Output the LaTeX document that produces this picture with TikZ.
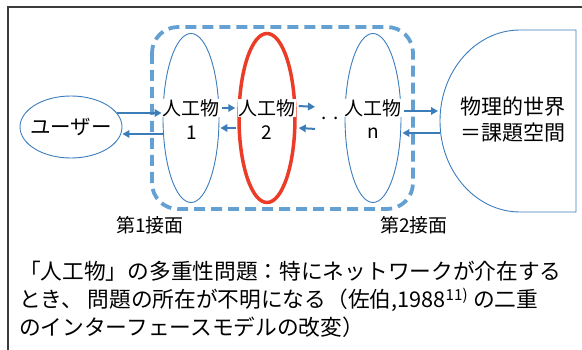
\documentclass[tikz,border=0pt]{standalone}
\usepackage{fontspec}
\setmainfont{Noto Sans CJK JP}
\usetikzlibrary{shapes.geometric,arrows.meta}
\definecolor{ebl}{RGB}{60,125,190}
\definecolor{dsh}{RGB}{100,160,210}
\definecolor{arw}{RGB}{60,125,185}
\definecolor{rd}{RGB}{235,60,40}
\definecolor{frm}{RGB}{60,60,60}
\tikzset{
  ell/.style={ellipse, draw=ebl, line width=0.9pt, inner sep=0pt},
  art/.style={fill=white, inner sep=0.4pt, font=\fontsize{19}{19}\selectfont},
  num/.style={inner sep=0pt, font=\fontsize{19}{19}\selectfont},
  arr/.style={draw=arw, line width=2pt, -{Triangle[length=7pt,width=7.5pt]}},
  lbl/.style={inner sep=0pt, font=\fontsize{19}{19}\selectfont},
  body/.style={inner sep=0pt, anchor=base west, font=\fontsize{21.7}{28}\selectfont},
}
\begin{document}
\begin{tikzpicture}[x=1pt,y=-1pt]
\useasboundingbox (0,0) rectangle (582,350);
% frame
\draw[frm, line width=1.8pt] (582,7) -- (8,7) -- (8,351);
% dashed group
\draw[dsh, line width=3.8pt, dash pattern=on 11pt off 6pt, rounded corners=26pt] (152,27) rectangle (413,209);
% ellipses
\node[ell, minimum width=102pt, minimum height=62pt] (user) at (71,127) {};
\node[ell, minimum width=56pt, minimum height=169pt] (e1) at (191,118) {};
\node[ellipse, draw=rd, line width=3.5pt, minimum width=56pt, minimum height=169pt, inner sep=0pt] (e2) at (267,118) {};
\node[ell, minimum width=56pt, minimum height=169pt] (en) at (373,118) {};
% physical world shape
\draw[ebl, line width=0.9pt] (576,30) -- (520,30) arc[start angle=90, end angle=270, x radius=80pt, y radius=91pt] -- (576,212) -- cycle;
\coordinate (wapex) at (440,121);
% texts
\node[inner sep=0pt, font=\fontsize{20.5}{20.5}\selectfont] (ut) at (71,127) {ユーザー};
\node[art] (a1) at (191,108) {人工物};
\node[num] (n1) at (192,133) {1};
\node[art] (a2) at (267,108) {人工物};
\node[num] (n2) at (267,133) {2};
\node[art] (an) at (373,108) {人工物};
\node[num] (nn) at (373,133) {n};
\node[inner sep=0pt, anchor=base, font=\fontsize{19}{19}\selectfont] (dots) at (330,120) {.\,\,.};
\node[inner sep=0pt, font=\fontsize{21}{21}\selectfont] (w1) at (513,107) {物理的世界};
\node[inner sep=0pt, font=\fontsize{21}{21}\selectfont] (w2) at (513,133) {＝課題空間};
\node[lbl] (if1) at (150,225) {第1接面};
\node[lbl] (if2) at (414,225) {第2接面};
% arrows
\draw[arr] ([xshift=-5pt,yshift=14pt]user.east) -- ([xshift=-1pt,yshift=5pt]e1.west);
\draw[arr] ([yshift=-16pt]e1.west) -- ([yshift=-7pt]user.east);
\draw[arr] ([xshift=3pt,yshift=10pt]e1.east) -- ([xshift=-2pt,yshift=10pt]e2.west);
\draw[arr] ([xshift=-1pt,yshift=-10pt]e2.west) -- ([xshift=1pt,yshift=-10pt]e1.east);
\draw[arr] ([xshift=2pt,yshift=12pt]e2.east) -- ([xshift=-15pt,yshift=12pt]dots.center);
\draw[arr] ([xshift=-15pt,yshift=-10pt]dots.center) -- ([xshift=2pt,yshift=-10pt]e2.east);
\draw[arr] ([xshift=3pt,yshift=7pt]en.east) -- ([xshift=-2pt,yshift=10pt]wapex);
\draw[arr] ([yshift=-12pt]wapex) -- ([xshift=1pt,yshift=-15pt]en.east);
% body text
\node[body] (b1) at (19,280) {「人工物」の多重性問題：特にネットワークが介在する};
\node[body] (b2) at (19,308) {とき、 問題の所在が不明になる（佐伯,1988\textsuperscript{11)} の二重};
\node[body] (b3) at (19,336) {のインターフェースモデルの改変）};
\end{tikzpicture}
\end{document}
